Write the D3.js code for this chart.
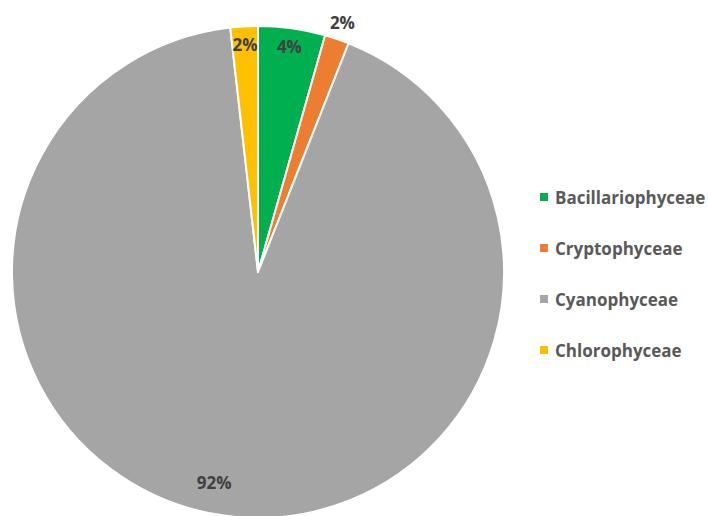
<!DOCTYPE html>
<html>
<head>
<meta charset="utf-8">
<script src="https://cdn.jsdelivr.net/npm/d3@7"></script>
<style>
  html, body { margin: 0; padding: 0; background: #fff; }
  svg { display: block; }
</style>
</head>
<body>
<svg id="chart" width="708" height="516"></svg>
<script>
// Phytoplankton class composition (share of total, %)
const categories = ["Bacillariophyceae", "Cryptophyceae", "Cyanophyceae", "Chlorophyceae"];
const values = [4.4, 1.6, 92.2, 1.8];
const colors = ["#00B050", "#ED7D31", "#A5A5A5", "#FFC000"];

const svg = d3.select("#chart");
const cx = 258, cy = 272, radius = 246;

const total = d3.sum(values);
const data = categories.map((c, i) => ({ name: c, value: values[i], color: colors[i] }));

const pie = d3.pie().value(d => d.value).sort(null);
const arcs = pie(data);
const arc = d3.arc().innerRadius(0).outerRadius(radius);

const g = svg.append("g").attr("transform", `translate(${cx},${cy})`);

g.selectAll("path.slice")
  .data(arcs)
  .join("path")
  .attr("class", "slice")
  .attr("d", arc)
  .attr("fill", d => d.data.color)
  .attr("stroke", "#fff")
  .attr("stroke-width", 2)
  .attr("stroke-linejoin", "round");

// Percentage labels: small slices near the rim, the tiny orange one outside
const labelRadius = i => (i === 1 ? 263 : i === 2 ? 215 : 228);
const labelFont = "'Open Sans', 'Noto Sans', sans-serif";

g.selectAll("text.pct")
  .data(arcs)
  .join("text")
  .attr("class", "pct")
  .attr("transform", (d, i) => {
    const a = (d.startAngle + d.endAngle) / 2 + (i === 2 ? 0.073 : 0);
    const r = labelRadius(i);
    return `translate(${r * Math.sin(a)},${-r * Math.cos(a)})`;
  })
  .attr("text-anchor", "middle")
  .attr("dominant-baseline", "central")
  .attr("font-family", labelFont)
  .attr("font-weight", "bold")
  .attr("font-size", 17)
  .attr("fill", "#404040")
  .text(d => Math.round(d.data.value / total * 100) + "%");

// Legend
const legend = svg.append("g").attr("transform", "translate(540,197)");
const rows = legend.selectAll("g.row")
  .data(data)
  .join("g")
  .attr("class", "row")
  .attr("transform", (d, i) => `translate(0,${i * 51})`);

rows.append("rect")
  .attr("x", 0).attr("y", -4)
  .attr("width", 8).attr("height", 8)
  .attr("fill", d => d.color);

rows.append("text")
  .attr("x", 15)
  .attr("y", 0)
  .attr("dominant-baseline", "central")
  .attr("font-family", labelFont)
  .attr("font-weight", "bold")
  .attr("font-size", 17)
  .attr("fill", "#595959")
  .text(d => d.name);
</script>
</body>
</html>
